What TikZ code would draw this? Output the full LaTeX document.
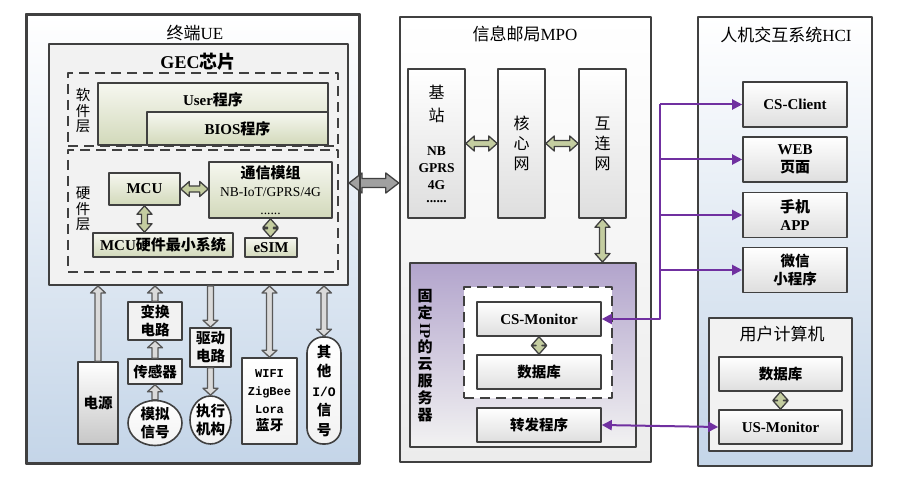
\documentclass[tikz,border=0pt]{standalone}
\usepackage{fontspec}
\setmainfont{Liberation Serif}
\setmonofont{Liberation Mono}
\newfontfamily\cjk{Noto Sans CJK SC}
\usetikzlibrary{calc,arrows.meta,shapes.geometric}

\newcommand\bsfont{\rmfamily\bfseries\fontsize{13.5}{17}\selectfont}

\definecolor{edgegray}{RGB}{64,64,64}
\definecolor{arrline}{RGB}{89,89,89}
\definecolor{olivetop}{RGB}{246,247,240}
\definecolor{olivebot}{RGB}{210,217,186}
\definecolor{greybot}{RGB}{222,222,222}
\definecolor{bluebot}{RGB}{196,213,232}
\definecolor{mpobot}{RGB}{236,236,236}
\definecolor{arrgreen}{RGB}{196,205,160}
\definecolor{arrlight}{RGB}{218,218,218}
\definecolor{arrdark}{RGB}{160,160,160}
\definecolor{lilac}{RGB}{178,164,204}
\definecolor{panel}{RGB}{242,242,242}
\definecolor{conn}{RGB}{112,48,160}

\tikzset{
  fat len/.store in=\fatlen, fat wid/.store in=\fatwid, fat sh/.store in=\fatsh,
  fat len=8pt, fat wid=7pt, fat sh=3pt,
  fatboth/.style={to path={let \p1=($(\tikztostart)!\fatlen!(\tikztotarget)$),
      \p2=($(\tikztotarget)!\fatlen!(\tikztostart)$) in
    (\tikztostart) -- ($(\p1)!\fatwid!90:(\tikztotarget)$) -- ($(\p1)!\fatsh!90:(\tikztotarget)$)
    -- ($(\p2)!\fatsh!-90:(\tikztostart)$) -- ($(\p2)!\fatwid!-90:(\tikztostart)$) -- (\tikztotarget)
    -- ($(\p2)!\fatwid!90:(\tikztostart)$) -- ($(\p2)!\fatsh!90:(\tikztostart)$)
    -- ($(\p1)!\fatsh!-90:(\tikztotarget)$) -- ($(\p1)!\fatwid!-90:(\tikztotarget)$) -- cycle}},
  fatone/.style={to path={let \p2=($(\tikztotarget)!\fatlen!(\tikztostart)$) in
    ($(\tikztostart)!\fatsh!90:(\tikztotarget)$) -- ($(\p2)!\fatsh!-90:(\tikztostart)$)
    -- ($(\p2)!\fatwid!-90:(\tikztostart)$) -- (\tikztotarget)
    -- ($(\p2)!\fatwid!90:(\tikztostart)$) -- ($(\p2)!\fatsh!90:(\tikztostart)$)
    -- ($(\tikztostart)!\fatsh!-90:(\tikztotarget)$) -- cycle}},
  greenarr/.style={fatboth, fill=arrgreen, draw=edgegray, line width=1.3pt, fat len=8.5pt, fat wid=7.5pt, fat sh=3pt},
  hollow/.style={fill=arrlight, draw=arrline, line width=1.3pt, fat len=7pt, fat wid=7.5pt, fat sh=3pt},
  bigarr/.style={fatboth, fill=arrdark, draw=edgegray, line width=1.3pt, fat len=13pt, fat wid=10pt, fat sh=4.5pt},
}

\begin{document}
\begin{tikzpicture}[x=1pt, y=-1pt, line join=round, >={Triangle[length=10pt,width=10pt]},
  blk/.style={draw=edgegray, line width=1.6pt, align=center, inner sep=0pt},
  olivebox/.style={blk, top color=olivetop, bottom color=olivebot},
  greybox/.style={blk, top color=white, bottom color=greybot},
  dashbox/.style={draw=edgegray, line width=1.8pt, dash pattern=on 10pt off 6pt, fill=panel},
  outer/.style={draw=edgegray, line width=2.4pt},
  ttl/.style={font=\fontsize{17}{19}\selectfont},
  lab/.style={font=\bfseries\fontsize{15}{18}\selectfont, align=center},
  labzh/.style={font=\cjk\bfseries\fontsize{14.5}{18}\selectfont, align=center},
  vtxt/.style={font=\cjk\fontsize{14.5}{15.5}\selectfont, align=center},
  pl/.style={draw=conn, line width=2pt}]

\useasboundingbox (0,0) rectangle (908,486);

\node[outer, top color=white, bottom color=bluebot, minimum width=332pt, minimum height=448pt] (ue) at (193,239) {};
\node[ttl] (uettl) at (195,33) {{\cjk 终端}UE};
\node[blk, line width=2pt, fill=panel, minimum width=299pt, minimum height=241pt] (gec) at (198.5,164.5) {};
\node[font=\bfseries\fontsize{18}{20}\selectfont] (gecttl) at (198,62) {GEC{\cjk 芯片}};

\node[dashbox, minimum width=270pt, minimum height=73pt] (soft) at (203,109.5) {};
\node[vtxt] (softtxt) at (83,111) {软\\件\\层};
\node[olivebox, minimum width=230pt, minimum height=62pt] (user) at (213,114) {};
\node[lab] (usertxt) at (213,100) {User{\cjk 程序}};
\node[olivebox, lab, minimum width=181pt, minimum height=33pt] (bios) at (237.5,128.5) {BIOS{\cjk 程序}};

\node[dashbox, minimum width=270pt, minimum height=122pt] (hard) at (203,211) {};
\node[vtxt] (hardtxt) at (83,209) {硬\\件\\层};
\node[olivebox, lab, minimum width=71pt, minimum height=32pt] (mcu) at (144.5,189) {MCU};
\node[olivebox, lab, minimum width=123pt, minimum height=56pt] (comm) at (270.5,190)
  {{\cjk 通信模组}\\{\mdseries\fontsize{13.5}{16}\selectfont NB-IoT/GPRS/4G}\\{\mdseries\fontsize{13.5}{14}\selectfont ......}};
\node[olivebox, lab, minimum width=140pt, minimum height=24pt] (mcumin) at (163,245) {MCU{\cjk 硬件最小系统}};
\node[olivebox, lab, minimum width=52pt, minimum height=19pt] (esim) at (271,247.5) {eSIM};

\node[blk, labzh, top color=white, bottom color=black!22, minimum width=40pt, minimum height=82pt] (power) at (98,403) {电源};
\node[blk, labzh, fill=panel, minimum width=54pt, minimum height=38pt] (conv) at (155,321) {变换\\电路};
\node[blk, labzh, fill=panel, minimum width=54pt, minimum height=25pt] (sensor) at (155,371.5) {传感器};
\node[blk, labzh, ellipse, top color=white, bottom color=panel, minimum width=54pt, minimum height=42pt] (analog) at (155,423) {模拟\\信号};
\node[blk, labzh, fill=panel, minimum width=41pt, minimum height=39pt] (drive) at (210.5,347.5) {驱动\\电路};
\node[blk, labzh, ellipse, top color=white, bottom color=panel, minimum width=41pt, minimum height=48pt] (act) at (210.5,420) {执行\\机构};
\node[blk, top color=white, bottom color=panel, minimum width=55pt, minimum height=86pt,
  font=\ttfamily\bfseries\fontsize{12}{17.7}\selectfont] (wifi) at (269.5,401)
  {WIFI\\ZigBee\\Lora\\{\cjk\fontsize{14}{17.7}\selectfont 蓝牙}};
\node[blk, rounded corners=16pt, top color=white, bottom color=panel, minimum width=34pt, minimum height=107pt,
  font=\cjk\bfseries\fontsize{14.5}{19.5}\selectfont] (io) at (324,390.5)
  {其\\他\\{\ttfamily\fontsize{13}{19.5}\selectfont I/O}\\信\\号};

\node[outer, top color=white, bottom color=mpobot, minimum width=251pt, minimum height=445pt] (mpo) at (525.5,239.5) {};
\node[ttl] (mpottl) at (525,34) {{\cjk 信息邮局}MPO};
\node[greybox, minimum width=57pt, minimum height=149pt, font=\cjk\fontsize{16}{17}\selectfont] (bs) at (436.5,143.5)
  {基\\[6pt]站\\[17pt]\bsfont NB\\\bsfont GPRS\\\bsfont 4G\\[-4pt]\bsfont ......};
\node[greybox, minimum width=47pt, minimum height=149pt, font=\cjk\fontsize{16}{20}\selectfont] (core) at (521.5,143.5) {核\\心\\网};
\node[greybox, minimum width=47pt, minimum height=149pt, font=\cjk\fontsize{16}{20}\selectfont] (inet) at (602.5,143.5) {互\\连\\网};

\node[blk, line width=2pt, top color=lilac, bottom color=panel, minimum width=226pt, minimum height=184pt] (cloud) at (523,355) {};
\node[font=\cjk\bfseries\fontsize{15}{17}\selectfont, align=center] (cloudtxt) at (425,356)
  {固\\定\\\rotatebox[origin=c]{-90}{\rmfamily IP}\\的\\云\\服\\务\\器};
\node[dashbox, fill=white, minimum width=148pt, minimum height=111pt] (cdash) at (538,342.5) {};
\node[greybox, lab, minimum width=124pt, minimum height=34pt] (csmon) at (539,319) {CS-Monitor};
\node[greybox, labzh, minimum width=124pt, minimum height=34pt] (cdb) at (539,372) {数据库};
\node[greybox, labzh, minimum width=124pt, minimum height=34pt] (fwd) at (539,425) {转发程序};

\node[outer, top color=white, bottom color=bluebot, minimum width=174pt, minimum height=449pt] (hci) at (785,241.5) {};
\node[ttl] (hcittl) at (786,35) {{\cjk 人机交互系统}HCI};
\node[greybox, lab, minimum width=104pt, minimum height=45pt] (csc) at (795,104.5) {CS-Client};
\node[greybox, lab, minimum width=104pt, minimum height=45pt] (web) at (795,159.5) {WEB\\{\cjk 页面}};
\node[greybox, lab, minimum width=104pt, minimum height=45pt] (app) at (795,215) {{\cjk 手机}\\APP};
\node[greybox, labzh, minimum width=104pt, minimum height=45pt] (wx) at (795,270) {微信\\小程序};
\node[blk, line width=2pt, fill=panel, minimum width=143pt, minimum height=133pt] (pc) at (780.5,384.5) {};
\node[ttl, font=\cjk\fontsize{17}{19}\selectfont] (pcttl) at (782,334) {用户计算机};
\node[greybox, labzh, minimum width=123pt, minimum height=34pt] (udb) at (780.5,374) {数据库};
\node[greybox, lab, minimum width=123pt, minimum height=34pt] (usmon) at (780.5,427) {US-Monitor};

\draw[greenarr] (mcu.east) to (mcu.east -| comm.west);
\draw[greenarr] (mcu.south) to (mcu.south |- mcumin.north);
\draw[greenarr] (comm.south) to (comm.south |- esim.north);
\draw[greenarr] (bs.east) to (core.west);
\draw[greenarr] (core.east) to (inet.west);
\draw[greenarr] (inet.south) to (inet.south |- cloud.north);
\draw[greenarr] (csmon.south) to (cdb.north);
\draw[greenarr] (udb.south) to (usmon.north);

\draw[hollow, fatone] (power.north) to (power.north |- gec.south);
\draw[hollow, fatone] (conv.north) to (conv.north |- gec.south);
\draw[hollow, fatone] (sensor.north) to (conv.south);
\draw[hollow, fatone] (analog.north) to (sensor.south);
\draw[hollow, fatone] (drive.north |- gec.south) to (drive.north);
\draw[hollow, fatone] (drive.south) to (act.north);
\draw[hollow, fatboth] (wifi.north |- gec.south) to (wifi.north);
\draw[hollow, fatboth] (io.north |- gec.south) to (io.north);

\coordinate (ueport) at ($(gec.east)+(0,18.5)$);
\draw[bigarr] (ueport) to (ueport -| mpo.west);
\draw[outer] (ue.north west) rectangle (ue.south east);

\coordinate (bus) at (660,0);
\draw[pl, ->] (bus |- csc.west) -- (bus |- csmon.east) -- (csmon.east);
\foreach \t in {csc,web,app,wx}
  \draw[pl, ->] (bus |- \t.west) -- (\t.west);
\draw[pl, <->] (fwd.east) -- (usmon.west);
\end{tikzpicture}
\end{document}
